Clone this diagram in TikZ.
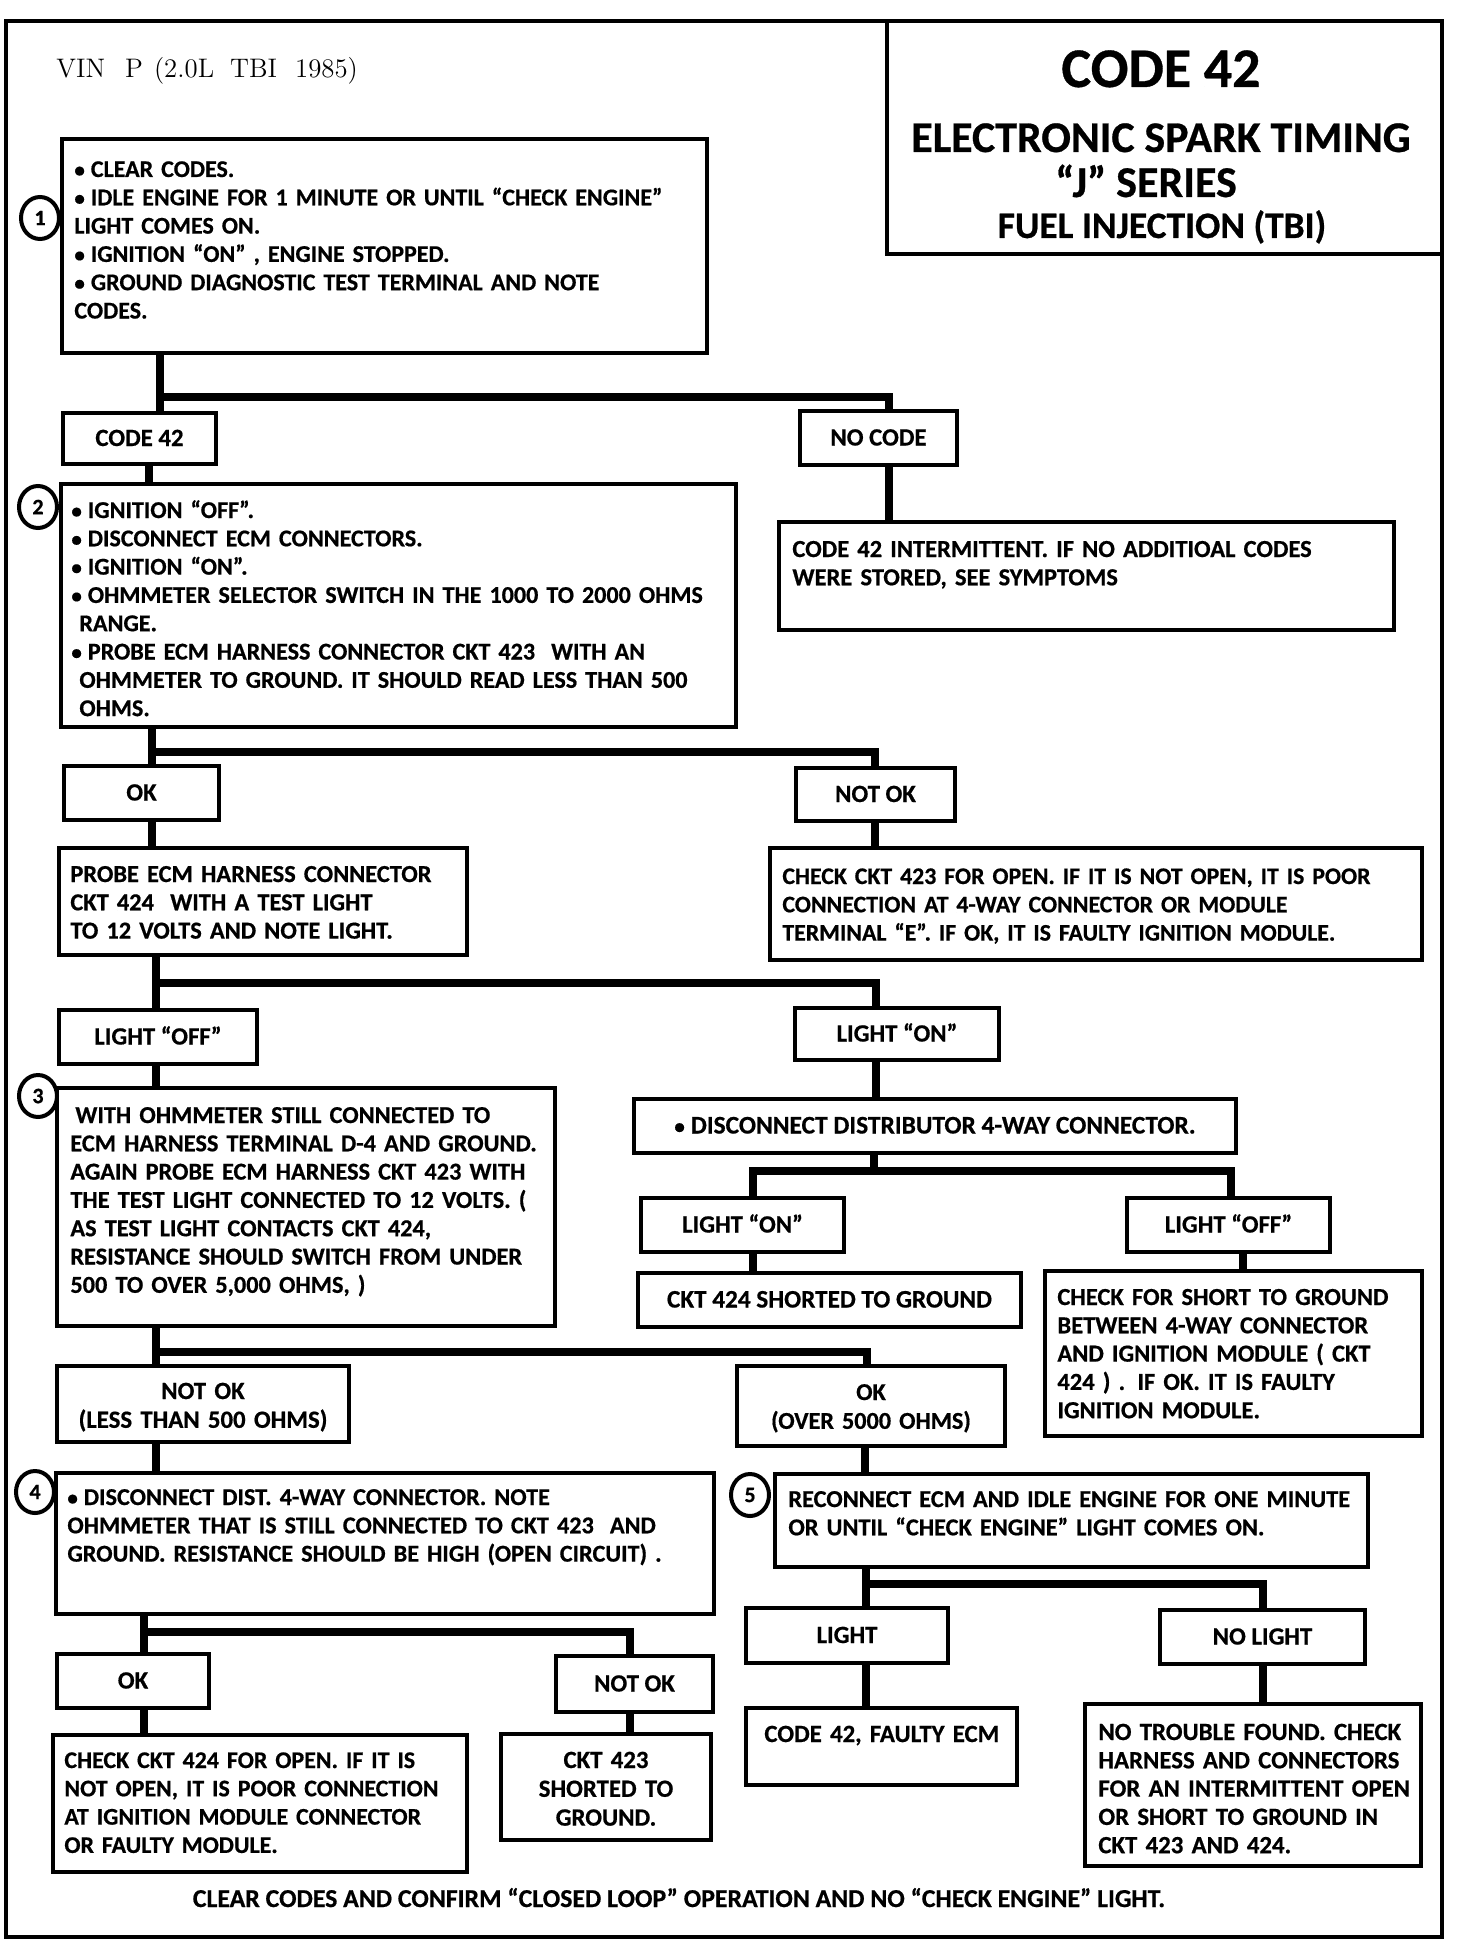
\documentclass[tikz,border=0pt]{standalone}
\usepackage{fontspec}
\newfontfamily\carl{Carlito}[BoldFeatures={FakeBold=0.6}]
\usetikzlibrary{fit,shapes.geometric}
\newcommand\bul{{\fontsize{10.5}{10}\selectfont •}\kern3pt}
\tikzset{
  boxs/.style={draw, line width=1.6pt, inner sep=0pt, rectangle},
  conn/.style={line width=4pt, line cap=butt, line join=miter},
  txt/.style={font=\carl\bfseries\fontsize{#1}{14.15}\selectfont, inner sep=0pt, text width=14cm, align=left, anchor=base west},
  txt/.default=12.4,
  ctxt/.style={font=\carl\bfseries\fontsize{#1}{14.4}\selectfont, inner sep=0pt, text width=8cm, align=center, anchor=base},
  ctxt/.default=12.4,
  lbl/.style={font=\carl\bfseries\fontsize{#1}{14.15}\selectfont, inner sep=0pt, anchor=base},
  lbl/.default=12.4,
  numc/.style={draw, ellipse, line width=2pt, minimum width=19pt, minimum height=21pt, inner sep=0pt, font=\carl\bfseries\fontsize{11}{11}\selectfont},
  ttl/.style={inner sep=0pt, anchor=base},
}
\begin{document}
\begin{tikzpicture}[x=0.5pt,y=-0.5pt]
\useasboundingbox (0,0) rectangle (1472,1942);
\fill[white] (0,0) rectangle (1472,1942);

% frame and title
\node[draw, line width=1.8pt, inner sep=0pt, fit={(6,21) (1442,1937)}] (frame) {};
\node[boxs, fit={(887,21) (1442,254)}] (title) {};
\node[ttl, font=\carl\bfseries\fontsize{28}{28}\selectfont] (tt1) at (1161,87) {CODE 42};
\node[ttl, font=\carl\bfseries\fontsize{21.9}{22}\selectfont] (tt2) at (1161,152) {ELECTRONIC SPARK TIMING};
\node[ttl, font=\carl\bfseries\fontsize{22}{22}\selectfont] (tt3) at (1146,197) {“J” SERIES};
\node[ttl, font=\carl\bfseries\fontsize{18.7}{19}\selectfont] (tt4) at (1162,238) {FUEL INJECTION (TBI)};
\node[anchor=base west, inner sep=0pt, font=\fontsize{13.4}{15}\selectfont] (vin) at (56,78) {VIN\hspace{10pt}P\hspace{5.5pt}(2.0L\hspace{8pt}TBI\hspace{9pt}1985)};

% step 1
\node[boxs, fit={(62,139) (707,353)}] (b1) {};
\node[txt=12.0] (tb1) at (74,177) {\bul CLEAR CODES.\\\bul IDLE ENGINE FOR 1 MINUTE OR UNTIL “CHECK ENGINE”\\LIGHT COMES ON.\\\bul IGNITION “ON” , ENGINE STOPPED.\\\bul GROUND DIAGNOSTIC TEST TERMINAL AND NOTE\\CODES.};
\node[numc] (n1) at (40,218) {1};

\node[boxs, fit={(63,413) (216,464)}] (c42) {};
\node[lbl] (tc42) at (139.5,446) {CODE 42};
\node[boxs, fit={(800,411) (957,465)}] (nc) {};
\node[lbl] (tnc) at (878.5,445.5) {NO CODE};
\node[boxs, fit={(779,522) (1394,630)}] (ncb) {};
\node[txt=12.25] (tncb) at (792,557) {CODE 42 INTERMITTENT. IF NO ADDITIOAL CODES\\WERE STORED, SEE SYMPTOMS};

% step 2
\node[boxs, fit={(61,484) (736,727)}] (b2) {};
\node[txt=12.05] (tb2) at (71,518) {\bul IGNITION “OFF”.\\\bul DISCONNECT ECM CONNECTORS.\\\bul IGNITION “ON”.\\\bul OHMMETER SELECTOR SWITCH IN THE 1000 TO 2000 OHMS\\\hspace*{4pt}RANGE.\\\bul PROBE ECM HARNESS CONNECTOR CKT 423 \ WITH AN\\\hspace*{4pt}OHMMETER TO GROUND. IT SHOULD READ LESS THAN 500\\\hspace*{4pt}OHMS.};
\node[numc] (n2) at (38,507) {2};

\node[boxs, fit={(64,766) (219,820)}] (ok1) {};
\node[lbl] (tok1) at (141.5,800.5) {OK};
\node[boxs, fit={(796,768) (955,821)}] (nok1) {};
\node[lbl] (tnok1) at (875.5,802) {NOT OK};

\node[boxs, fit={(59,848) (467,955)}] (pr) {};
\node[txt=12.2] (tpr) at (70,882) {PROBE ECM HARNESS CONNECTOR\\CKT 424 \ WITH A TEST LIGHT\\TO 12 VOLTS AND NOTE LIGHT.};
\node[boxs, fit={(770,848) (1422,960)}] (c423) {};
\node[txt=11.9] (tc423) at (782,884) {CHECK CKT 423 FOR OPEN. IF IT IS NOT OPEN, IT IS POOR\\CONNECTION AT 4-WAY CONNECTOR OR MODULE\\TERMINAL “E”. IF OK, IT IS FAULTY IGNITION MODULE.};

\node[boxs, fit={(59,1010) (257,1064)}] (lo1) {};
\node[lbl] (tlo1) at (158,1044.5) {LIGHT “OFF”};
\node[boxs, fit={(795,1008) (999,1060)}] (ln1) {};
\node[lbl] (tln1) at (897,1041.5) {LIGHT “ON”};

% step 3
\node[boxs, fit={(57,1088) (555,1326)}] (b3) {};
\node[txt=12.15] (tb3) at (70,1123) {\hspace*{2.5pt}WITH OHMMETER STILL CONNECTED TO\\ECM HARNESS TERMINAL D-4 AND GROUND.\\AGAIN PROBE ECM HARNESS CKT 423 WITH\\THE TEST LIGHT CONNECTED TO 12 VOLTS. (\\AS TEST LIGHT CONTACTS CKT 424,\\RESISTANCE SHOULD SWITCH FROM UNDER\\500 TO OVER 5,000 OHMS, )};
\node[numc] (n3) at (38,1096) {3};

\node[boxs, fit={(634,1099) (1236,1153)}] (dsc) {};
\node[lbl=12.7] (tdsc) at (935,1133.5) {\bul DISCONNECT DISTRIBUTOR 4-WAY CONNECTOR.};
\node[boxs, fit={(641,1198) (844,1252)}] (ln2) {};
\node[lbl] (tln2) at (742.5,1232.5) {LIGHT “ON”};
\node[boxs, fit={(1127,1198) (1330,1252)}] (lo2) {};
\node[lbl] (tlo2) at (1228.5,1232.5) {LIGHT “OFF”};
\node[boxs, fit={(638,1273) (1021,1327)}] (s424) {};
\node[lbl=12.6] (ts424) at (829.5,1307.5) {CKT 424 SHORTED TO GROUND};
\node[boxs, fit={(1045,1271) (1422,1436)}] (cfs) {};
\node[txt=12.25] (tcfs) at (1057,1305) {CHECK FOR SHORT TO GROUND\\BETWEEN 4-WAY CONNECTOR\\AND IGNITION MODULE ( CKT\\424 ) . IF OK. IT IS FAULTY\\IGNITION MODULE.};

\node[boxs, fit={(57,1366) (349,1442)}] (nok3) {};
\node[ctxt] (tnok3) at (203,1399) {NOT OK\\(LESS THAN 500 OHMS)};
\node[boxs, fit={(737,1366) (1005,1446)}] (ok3) {};
\node[ctxt=12.1] (tok3) at (871,1400) {OK\\(OVER 5000 OHMS)};

% step 4
\node[boxs, fit={(56,1473) (714,1614)}] (b4) {};
\node[txt=12.1] (tb4) at (67,1505) {\bul DISCONNECT DIST. 4-WAY CONNECTOR. NOTE\\OHMMETER THAT IS STILL CONNECTED TO CKT 423 \ AND\\GROUND. RESISTANCE SHOULD BE HIGH (OPEN CIRCUIT) .};
\node[numc] (n4) at (35,1492) {4};

\node[boxs, fit={(57,1654) (209,1708)}] (ok4) {};
\node[lbl] (tok4) at (133,1688.5) {OK};
\node[boxs, fit={(556,1656) (713,1712)}] (nok4) {};
\node[lbl] (tnok4) at (634.5,1691.5) {NOT OK};
\node[boxs, fit={(53,1735) (467,1872)}] (c424) {};
\node[txt=11.95] (tc424) at (64,1768) {CHECK CKT 424 FOR OPEN. IF IT IS\\NOT OPEN, IT IS POOR CONNECTION\\AT IGNITION MODULE CONNECTOR\\OR FAULTY MODULE.};
\node[boxs, fit={(501,1734) (711,1840)}] (s423) {};
\node[ctxt] (ts423) at (606,1768) {CKT 423\\SHORTED TO\\GROUND.};

% step 5
\node[boxs, fit={(775,1474) (1368,1567)}] (b5) {};
\node[txt=12.15] (tb5) at (788,1507) {RECONNECT ECM AND IDLE ENGINE FOR ONE MINUTE\\OR UNTIL “CHECK ENGINE” LIGHT COMES ON.};
\node[numc] (n5) at (750,1495) {5};

\node[boxs, fit={(746,1608) (948,1663)}] (lt5) {};
\node[lbl] (tlt5) at (847,1643) {LIGHT};
\node[boxs, fit={(1160,1610) (1365,1664)}] (nlt5) {};
\node[lbl] (tnlt5) at (1262.5,1644.5) {NO LIGHT};
\node[boxs, fit={(746,1708) (1017,1785)}] (fe) {};
\node[txt] (tfe) at (764,1742) {CODE 42, FAULTY ECM};
\node[boxs, fit={(1085,1704) (1421,1866)}] (ntf) {};
\node[txt] (tntf) at (1098,1740) {NO TROUBLE FOUND. CHECK\\HARNESS AND CONNECTORS\\FOR AN INTERMITTENT OPEN\\OR SHORT TO GROUND IN\\CKT 423 AND 424.};

\node[lbl=12.9] (foot) at (679,1907) {CLEAR CODES AND CONFIRM “CLOSED LOOP” OPERATION AND NO “CHECK ENGINE” LIGHT.};

% connectors
\coordinate (j1) at (160,397); \coordinate (j1r) at (889,397);
\draw[conn] (j1 |- b1.south) -- (j1) -- (j1r) -- (j1r |- nc.north);
\draw[conn] (j1) -- (j1 |- c42.north);
\coordinate (k2) at (149,0); \draw[conn] (k2 |- c42.south) -- (k2 |- b2.north);
\coordinate (k3) at (889,0); \draw[conn] (k3 |- nc.south) -- (k3 |- ncb.north);
\coordinate (j4) at (152,752); \coordinate (j4r) at (875,752);
\draw[conn] (j4 |- b2.south) -- (j4) -- (j4r) -- (j4r |- nok1.north);
\draw[conn] (j4) -- (j4 |- ok1.north);
\coordinate (k5) at (152,0); \draw[conn] (k5 |- ok1.south) -- (k5 |- pr.north);
\coordinate (k6) at (875,0); \draw[conn] (k6 |- nok1.south) -- (k6 |- c423.north);
\coordinate (j7) at (156,983); \coordinate (j7r) at (876,983);
\draw[conn] (j7 |- pr.south) -- (j7) -- (j7r) -- (j7r |- ln1.north);
\draw[conn] (j7) -- (j7 |- lo1.north);
\coordinate (k8) at (156,0); \draw[conn] (k8 |- lo1.south) -- (k8 |- b3.north);
\coordinate (k9) at (876,0); \draw[conn] (k9 |- ln1.south) -- (k9 |- dsc.north);
\coordinate (j10) at (874,1171); \coordinate (j10l) at (753,1171); \coordinate (j10r) at (1231,1171);
\draw[conn] (j10 |- dsc.south) -- (j10);
\draw[conn] (j10l |- ln2.north) -- (j10l) -- (j10r) -- (j10r |- lo2.north);
\coordinate (k11) at (753,0); \draw[conn] (k11 |- ln2.south) -- (k11 |- s424.north);
\coordinate (k12) at (1243,0); \draw[conn] (k12 |- lo2.south) -- (k12 |- cfs.north);
\coordinate (j13) at (156,1352); \coordinate (j13r) at (867,1352);
\draw[conn] (j13 |- b3.south) -- (j13) -- (j13r) -- (j13r |- ok3.north);
\draw[conn] (j13) -- (j13 |- nok3.north);
\coordinate (k14) at (156,0); \draw[conn] (k14 |- nok3.south) -- (k14 |- b4.north);
\coordinate (k15) at (865,0); \draw[conn] (k15 |- ok3.south) -- (k15 |- b5.north);
\coordinate (j16) at (144,1632); \coordinate (j16r) at (630,1632);
\draw[conn] (j16 |- b4.south) -- (j16) -- (j16r) -- (j16r |- nok4.north);
\draw[conn] (j16) -- (j16 |- ok4.north);
\coordinate (k17) at (144,0); \draw[conn] (k17 |- ok4.south) -- (k17 |- c424.north);
\coordinate (k18) at (630,0); \draw[conn] (k18 |- nok4.south) -- (k18 |- s423.north);
\coordinate (j19) at (866,1584); \coordinate (j19r) at (1263,1584);
\draw[conn] (j19 |- b5.south) -- (j19) -- (j19r) -- (j19r |- nlt5.north);
\draw[conn] (j19) -- (j19 |- lt5.north);
\coordinate (k20) at (866,0); \draw[conn] (k20 |- lt5.south) -- (k20 |- fe.north);
\coordinate (k21) at (1263,0); \draw[conn] (k21 |- nlt5.south) -- (k21 |- ntf.north);
\end{tikzpicture}
\end{document}
